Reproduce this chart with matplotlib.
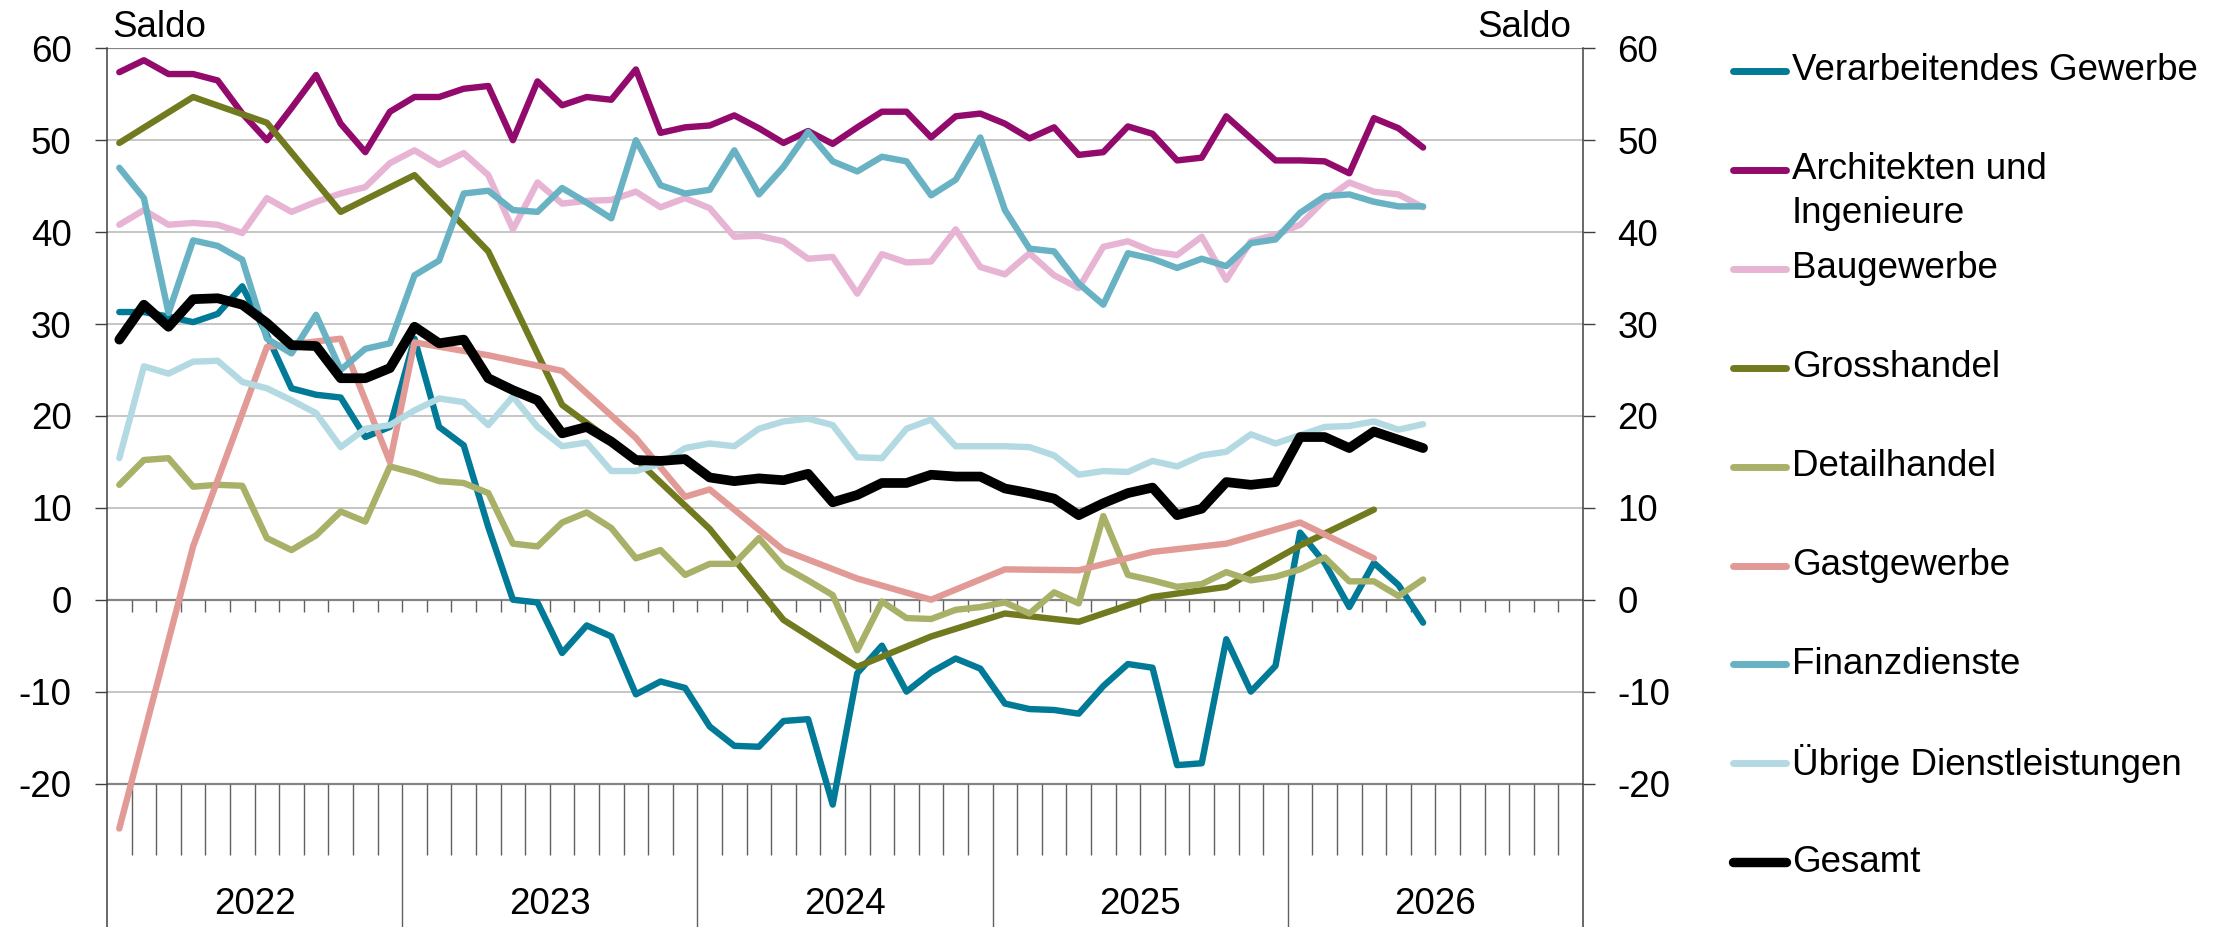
import matplotlib.pyplot as plt
from matplotlib.lines import Line2D

plt.rcParams['font.family'] = ['Liberation Sans', 'DejaVu Sans']
plt.rcParams['axes.unicode_minus'] = False

# monthly index: 0 = Jan 2022
months = list(range(54))

verarbeitendes = [31.3, 31.3, 30.8, 30.2, 31.1, 34.1, 28.8, 23.0, 22.3, 22.0,
                  17.7, 18.8, 28.4, 18.8, 16.8, 7.9, 0.0, -0.3, -5.8, -2.8,
                  -4.0, -10.3, -8.9, -9.6, -13.8, -15.9, -16.0, -13.2, -13.0, -22.3,
                  -8.0, -5.0, -10.0, -7.9, -6.4, -7.5, -11.3, -11.9, -12.0, -12.4,
                  -9.4, -7.0, -7.4, -18.0, -17.8, -4.3, -10.0, -7.2, 7.3, 4.0,
                  -0.8, 4.0, 1.6, -2.5]
architekten = [57.4, 58.7, 57.2, 57.2, 56.5, 52.9, 50.0, 53.5, 57.1, 51.8,
               48.7, 53.1, 54.7, 54.7, 55.6, 55.9, 50.0, 56.4, 53.8, 54.7,
               54.4, 57.7, 50.8, 51.4, 51.6, 52.7, 51.3, 49.7, 51.0, 49.6,
               51.4, 53.1, 53.1, 50.3, 52.6, 52.9, 51.8, 50.2, 51.4, 48.4,
               48.7, 51.5, 50.7, 47.8, 48.1, 52.6, 50.2, 47.8, 47.8, 47.7,
               46.4, 52.4, 51.3, 49.2]
baugewerbe = [40.8, 42.4, 40.8, 41.0, 40.8, 39.9, 43.7, 42.2, 43.3, 44.2,
              44.9, 47.5, 48.9, 47.3, 48.6, 46.2, 40.3, 45.4, 43.1, 43.4,
              43.5, 44.4, 42.7, 43.7, 42.6, 39.5, 39.6, 39.0, 37.1, 37.3,
              33.3, 37.6, 36.7, 36.8, 40.3, 36.2, 35.4, 37.7, 35.3, 33.9,
              38.4, 39.0, 37.9, 37.5, 39.5, 34.8, 39.0, 39.7, 40.8, 43.5,
              45.4, 44.4, 44.1, 42.7]
detailhandel = [12.5, 15.2, 15.4, 12.3, 12.5, 12.4, 6.7, 5.4, 7.0, 9.6,
                8.5, 14.5, 13.8, 12.9, 12.7, 11.6, 6.1, 5.8, 8.4, 9.5,
                7.8, 4.5, 5.4, 2.7, 3.9, 3.9, 6.7, 3.6, 2.1, 0.5,
                -5.5, -0.2, -2.0, -2.1, -1.1, -0.8, -0.3, -1.5, 0.8, -0.4,
                9.1, 2.7, 2.1, 1.4, 1.7, 3.0, 2.1, 2.5, 3.3, 4.6,
                2.0, 2.0, 0.4, 2.2]
finanz = [47.0, 43.7, 31.2, 39.1, 38.5, 37.0, 28.4, 26.8, 31.0, 25.0,
          27.3, 27.9, 35.3, 36.9, 44.2, 44.5, 42.4, 42.2, 44.8, 43.2,
          41.5, 50.0, 45.1, 44.2, 44.6, 48.9, 44.1, 47.1, 50.9, 47.7,
          46.6, 48.2, 47.7, 44.0, 45.7, 50.3, 42.4, 38.2, 37.9, 34.4,
          32.1, 37.7, 37.1, 36.1, 37.1, 36.3, 38.8, 39.2, 42.1, 43.9,
          44.1, 43.3, 42.8, 42.8]
uebrige = [15.4, 25.4, 24.6, 25.9, 26.0, 23.7, 23.0, 21.7, 20.3, 16.6,
           18.6, 19.0, 20.6, 21.9, 21.5, 19.0, 22.1, 18.8, 16.7, 17.1,
           14.0, 14.0, 14.8, 16.5, 17.0, 16.7, 18.6, 19.4, 19.7, 19.0,
           15.5, 15.4, 18.6, 19.6, 16.7, 16.7, 16.7, 16.6, 15.7, 13.6,
           14.0, 13.9, 15.1, 14.5, 15.7, 16.1, 18.0, 17.0, 17.9, 18.8,
           18.9, 19.4, 18.5, 19.1]
gesamt = [28.3, 32.1, 29.7, 32.7, 32.8, 32.1, 30.1, 27.7, 27.6, 24.1,
          24.1, 25.2, 29.7, 27.9, 28.3, 24.1, 22.8, 21.7, 18.1, 18.8,
          17.2, 15.2, 15.1, 15.3, 13.3, 12.9, 13.2, 13.0, 13.7, 10.6,
          11.4, 12.7, 12.7, 13.6, 13.4, 13.4, 12.1, 11.6, 11.0, 9.2,
          10.5, 11.6, 12.2, 9.2, 9.9, 12.8, 12.5, 12.8, 17.7, 17.7,
          16.5, 18.3, 17.4, 16.5]

# series with fewer observations (month index, value)
gross_months = [0, 3, 6, 9, 12, 15, 18, 21, 24, 27, 30, 33, 36, 39, 42, 45, 48, 51]
grosshandel = [49.7, 54.7, 51.9, 42.2, 46.2, 37.9, 21.2, 15.3, 7.7, -2.2,
               -7.3, -4.0, -1.5, -2.4, 0.3, 1.4, 5.9, 9.8]
gast_months = [0, 3, 6, 9, 11, 12, 15, 18, 21, 23, 24, 27, 30, 33, 36, 39, 42, 45, 48, 51]
gastgewerbe = [-24.9, 5.8, 27.5, 28.4, 15.0, 28.0, 26.6, 24.9, 17.6, 11.2,
               12.0, 5.4, 2.3, 0.0, 3.3, 3.2, 5.2, 6.1, 8.4, 4.5]

years = ['2022', '2023', '2024', '2025', '2026']

series = [
    ('Verarbeitendes Gewerbe', months, verarbeitendes, '#007a96'),
    ('Architekten und\nIngenieure', months, architekten, '#920a6b'),
    ('Baugewerbe', months, baugewerbe, '#e7b4d4'),
    ('Grosshandel', gross_months, grosshandel, '#717a1e'),
    ('Detailhandel', months, detailhandel, '#a9b067'),
    ('Gastgewerbe', gast_months, gastgewerbe, '#e29a96'),
    ('Finanzdienste', months, finanz, '#68b2c4'),
    ('Übrige Dienstleistungen', months, uebrige, '#b3d9e2'),
    ('Gesamt', months, gesamt, '#000000'),
]

W, H = 2229, 927
fig = plt.figure(figsize=(W / 100, H / 100), dpi=100)

# axes spans from the 60 line down to the bottom edge of the figure
top_px, bot20_px = 48.3, 783.5
ppu = (bot20_px - top_px) / 80.0
ymin = 60 - (H - top_px) / ppu
ax = fig.add_axes([107 / W, 0, (1583 - 107) / W, (H - top_px) / H])
ax.set_xlim(0, 60)
ax.set_ylim(ymin, 60)

for s in ['top', 'bottom']:
    ax.spines[s].set_visible(False)
for s in ['left', 'right']:
    ax.spines[s].set_color('#404040')
    ax.spines[s].set_linewidth(1.1)

# gridlines
for v in range(-10, 60, 10):
    if v != 0:
        ax.axhline(v, color='#c0c0c0', lw=1.3, zorder=1)
for v in [60, 0, -20]:
    ax.axhline(v, color='#858585', lw=1.6, zorder=1)

# month ticks on the zero line and below the plot
ax.vlines(range(1, 60), -12 / ppu, 0, color='#606060', lw=1.0, zorder=1)
ax.vlines([m for m in range(1, 60) if m % 12], -27.8, -20, color='#606060', lw=1.0, zorder=1)
ax.vlines([12, 24, 36, 48], ymin, -20, color='#606060', lw=1.0, zorder=1)
for k, y in enumerate(years):
    ax.text(12 * k + 6, -33.2, y, ha='center', va='center', fontsize=26.5)

ax.set_xticks([])
ax.set_yticks(range(-20, 61, 10))
ax.tick_params(axis='y', length=8.6, width=1.0, color='#404040', pad=17, labelsize=26.5)
ax2 = ax.twinx()
ax2.set_ylim(ax.get_ylim())
ax2.set_yticks(range(-20, 61, 10))
ax2.tick_params(axis='y', length=8.6, width=1.0, color='#404040', pad=16, labelsize=26.5)
for s in ['top', 'bottom', 'left', 'right']:
    ax2.spines[s].set_visible(False)

for label, xs, ys, col in series:
    lw = 7.0 if label == 'Gesamt' else 4.6
    ax.plot([m + 0.5 for m in xs], ys, color=col, lw=lw, solid_capstyle='round',
            solid_joinstyle='round', zorder=3, clip_on=False)

fig.text(112 / W, 1 - 37 / H, 'Saldo', fontsize=26.5, va='baseline', ha='left')
fig.text(1571 / W, 1 - 37 / H, 'Saldo', fontsize=26.5, va='baseline', ha='right')

# legend
y0, dy = 71, 98.9
for k, (label, xs, ys, col) in enumerate(series):
    yc = 1 - (y0 + k * dy) / H
    fig.add_artist(Line2D([1733 / W, 1786 / W], [yc, yc], color=col,
                          lw=6.8 if label == 'Gesamt' else 5.0, solid_capstyle='round'))
    for j, part in enumerate(label.split('\n')):
        fig.text(1792 / W, yc - j * 44 / H, part, fontsize=26.5, va='center', ha='left')

fig.savefig('out.png', dpi=100)
